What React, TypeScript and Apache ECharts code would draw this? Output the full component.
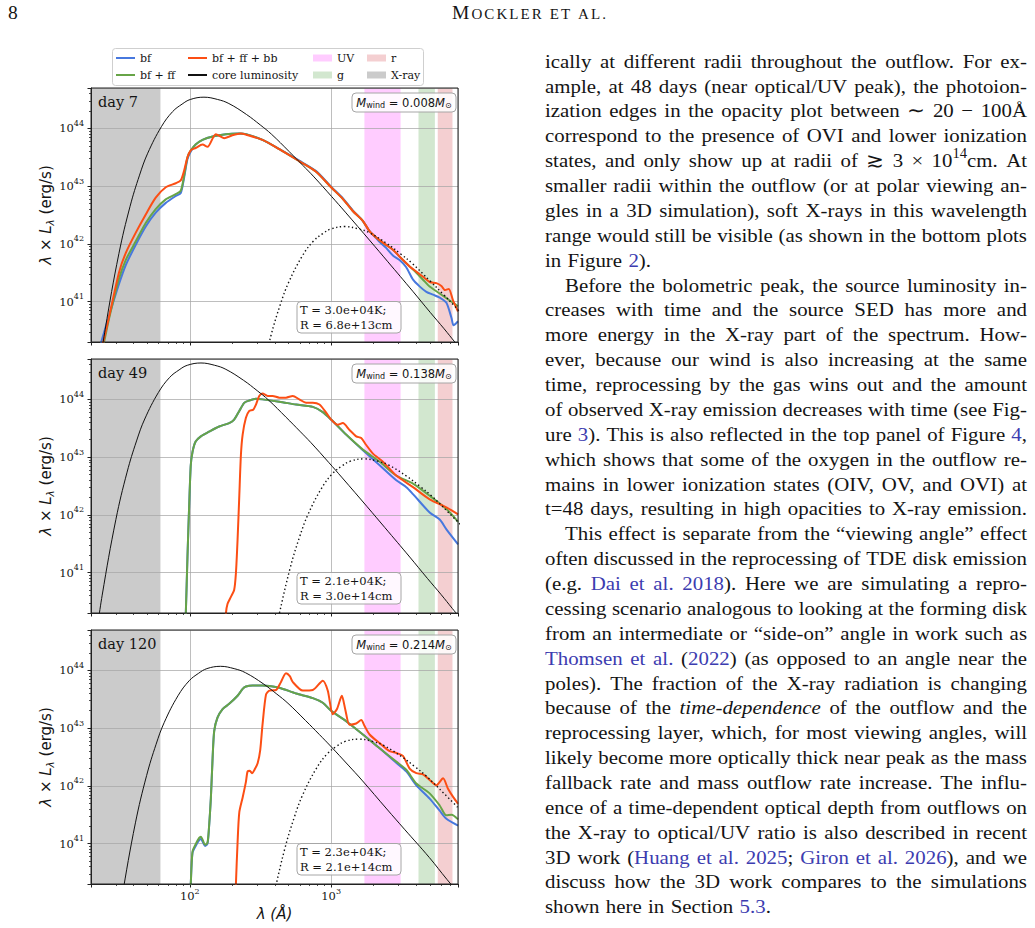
import React, { useEffect, useRef } from 'react';
import * as echarts from 'echarts';

type Pt = [number, number];

// ---------- axis ranges ----------
const WAVE_MIN = 20; // Å
const WAVE_MAX = 7900; // Å
const LUM_MIN = 2e40; // erg/s
const LUM_MAX = 5e44; // erg/s

// ---------- shaded wavelength bands, [from, to] in Å ----------
const bandNames = ['X-ray', 'UV', 'g', 'r'];
const bandRanges: Pt[] = [[20, 62], [1720, 3100], [4150, 5420], [5680, 7220]];

// ---------- per-epoch annotations ----------
const epochLabels = ['day 7', 'day 49', 'day 120'];
const windMasses = ['0.008', '0.138', '0.214'];
const photoTemps = ['3.0e+04', '2.1e+04', '2.3e+04'];
const photoRadii = ['6.8e+13', '3.0e+14', '2.1e+14'];

// ---------- spectra: [wavelength (Å), log10 of λL_λ (erg/s)] ----------
const day7Bf: Pt[] = [
  [21.5, 39.9], [23.4, 40.26], [26.8, 40.75], [31.6, 41.31], [35.2, 41.63], [41.4, 41.98], [48.8, 42.3],
  [57.4, 42.54], [67.6, 42.71], [79.6, 42.83], [86.3, 42.88], [91.2, 43.15], [96.3, 43.47], [101.6, 43.6],
  [110, 43.72], [123, 43.8], [145, 43.86], [180, 43.9], [224, 43.91], [250, 43.9], [327, 43.8], [430, 43.64],
  [596, 43.44], [783, 43.26], [1000, 42.99], [1209, 42.79], [1423, 42.58], [1675, 42.4], [1869, 42.22],
  [2085, 42.1], [2170, 42.05], [2450, 41.93], [2735, 41.8], [3050, 41.72], [3390, 41.6], [3800, 41.38],
  [4240, 41.26], [4720, 41.17], [5260, 41.12], [5863, 41.07], [6541, 40.98], [7100, 40.72], [7350, 40.59],
  [7900, 40.66],
];
const day7BfFf: Pt[] = [
  [22, 39.9], [24.2, 40.2], [26.8, 40.7], [31.6, 41.4], [35.2, 41.72], [41.4, 42.04], [48.8, 42.36],
  [57.4, 42.6], [67.6, 42.77], [79.6, 42.86], [86.3, 42.92], [91.2, 43.18], [96.3, 43.5], [101.6, 43.62],
  [110, 43.72], [123, 43.8], [145, 43.86], [180, 43.9], [224, 43.91], [250, 43.9], [327, 43.8], [430, 43.64],
  [596, 43.43], [783, 43.25], [1000, 42.98], [1209, 42.78], [1423, 42.57], [1675, 42.4], [1869, 42.22],
  [2085, 42.11], [2388, 42.0], [2735, 41.9], [3050, 41.78], [3590, 41.61], [4008, 41.5], [4467, 41.38],
  [4979, 41.26], [5554, 41.18], [6030, 41.12], [6541, 41.06], [7283, 40.98], [7900, 40.92],
];
const day7BfFfBb: Pt[] = [
  [21.5, 39.8], [24.2, 40.26], [26.8, 40.73], [31.6, 41.51], [35.2, 41.84], [41.4, 42.19], [48.8, 42.51],
  [57.4, 42.8], [67.6, 42.98], [79.6, 43.05], [86.3, 43.1], [91.2, 43.27], [96.3, 43.5], [101.6, 43.62],
  [110, 43.66], [123, 43.72], [133.5, 43.68], [152.8, 43.9], [175, 43.83], [200, 43.88], [230, 43.91],
  [250, 43.89], [327, 43.8], [430, 43.64], [596, 43.43], [783, 43.25], [1000, 42.98], [1209, 42.78],
  [1423, 42.57], [1675, 42.4], [1869, 42.22], [2085, 42.11], [2388, 42.0], [2735, 41.9], [3050, 41.78],
  [3590, 41.61], [4008, 41.52], [4467, 41.43], [4979, 41.34], [5554, 41.32], [6030, 41.27], [6400, 41.2],
  [6800, 41.22], [7283, 41.02], [7900, 40.83],
];
const day7Core: Pt[] = [
  [22.7, 39.75], [25.2, 40.52], [31.5, 41.83], [37.8, 42.65], [44.1, 43.19], [50.4, 43.57], [63, 44.03],
  [75.6, 44.29], [88.2, 44.42], [100.8, 44.5], [126, 44.54], [157.5, 44.5], [189, 44.43], [252, 44.24],
  [315, 44.06], [378, 43.9], [504, 43.6], [630, 43.36], [756, 43.16], [1008, 42.82], [1260, 42.55],
  [1890, 42.05], [2520, 41.69], [3780, 41.18], [5040, 40.81], [6300, 40.53], [7560, 40.29], [8000, 40.22],
];
const day7Photo: Pt[] = [
  [312, 39.59], [375, 40.41], [437, 40.95], [500, 41.33], [625, 41.79], [750, 42.05], [875, 42.18],
  [1000, 42.26], [1250, 42.3], [1562, 42.26], [1875, 42.19], [2500, 42.0], [3125, 41.82], [3750, 41.66],
  [5000, 41.36], [6250, 41.12], [7500, 40.92], [8000, 40.84],
];

const day49Bf: Pt[] = [
  [92, 39.9], [93.7, 40.29], [96.3, 41.28], [99, 42.16], [101.6, 42.86], [104.5, 43.09], [110, 43.27],
  [119.7, 43.36], [137, 43.44], [161.4, 43.53], [190, 43.59], [206, 43.65], [224, 43.8], [242.7, 43.94],
  [263.5, 43.98], [294, 44.01], [327, 44.0], [430, 43.96], [565, 43.91], [742, 43.87], [873, 43.78],
  [1000, 43.65], [1277, 43.39], [1678, 43.12], [2204, 42.86], [2890, 42.6], [3404, 42.48], [3795, 42.36],
  [4979, 42.04], [5863, 41.92], [6541, 41.75], [7910, 41.49],
];
const day49BfFf: Pt[] = [
  [92, 39.9], [93.7, 40.29], [96.3, 41.28], [99, 42.16], [101.6, 42.86], [104.5, 43.09], [110, 43.27],
  [119.7, 43.36], [137, 43.44], [161.4, 43.53], [190, 43.59], [206, 43.65], [224, 43.8], [242.7, 43.94],
  [263.5, 43.98], [294, 44.01], [327, 44.0], [430, 43.96], [565, 43.91], [742, 43.87], [873, 43.78],
  [1000, 43.65], [1277, 43.39], [1678, 43.13], [2204, 42.92], [2890, 42.68], [3795, 42.54], [4979, 42.33],
  [6541, 42.1], [7910, 41.88],
];
const day49BfFfBb: Pt[] = [
  [178, 39.9], [180, 40.29], [185, 40.46], [195.4, 40.58], [206, 40.7], [212, 40.99], [217.8, 41.57],
  [224, 42.33], [230, 43.04], [236.6, 43.39], [249.5, 43.68], [263.5, 43.8], [281, 43.82], [294, 43.91],
  [310, 44.06], [327, 44.1], [355.6, 44.06], [385.6, 44.06], [430, 44.03], [479.4, 44.03], [534.6, 44.06],
  [596, 44.0], [664.7, 43.94], [742, 43.94], [826.6, 43.91], [922, 43.77], [1000, 43.65], [1115, 43.56],
  [1210, 43.59], [1349, 43.47], [1504, 43.36], [1633, 43.33], [1771, 43.21], [1977, 43.06], [2325, 42.92],
  [2890, 42.68], [3795, 42.48], [4979, 42.27], [6541, 42.13], [7910, 42.01],
];
const day49Core: Pt[] = [
  [21.6, 39.84], [24, 40.61], [30, 41.92], [36, 42.74], [42, 43.28], [48, 43.66], [60, 44.12], [72, 44.38],
  [84, 44.51], [96, 44.59], [120, 44.63], [150, 44.59], [180, 44.52], [240, 44.33], [300, 44.15],
  [360, 43.99], [480, 43.69], [600, 43.45], [720, 43.25], [960, 42.91], [1200, 42.64], [1800, 42.14],
  [2400, 41.78], [3600, 41.27], [4800, 40.9], [6000, 40.62], [7200, 40.38], [8400, 40.18],
];
const day49Photo: Pt[] = [
  [393, 39.82], [427.5, 40.26], [513, 41.08], [598.5, 41.62], [684, 42.0], [855, 42.46], [1026, 42.72],
  [1197, 42.85], [1368, 42.93], [1710, 42.97], [2137, 42.93], [2565, 42.86], [3420, 42.67], [4275, 42.49],
  [5130, 42.33], [6840, 42.03], [8550, 41.79],
];

const day120Bf: Pt[] = [
  [100, 39.9], [101.6, 40.3], [104.5, 40.84], [110, 40.96], [116.5, 41.06], [119.7, 41.08], [126.4, 40.98],
  [128.5, 40.96], [133.5, 41.0], [137, 41.3], [140.9, 41.78], [145, 42.48], [148.8, 42.95], [157, 43.18],
  [170.6, 43.33], [190, 43.42], [217.8, 43.56], [236.6, 43.68], [249.5, 43.72], [278, 43.74], [327, 43.74],
  [365.5, 43.73], [430, 43.7], [565, 43.6], [742, 43.52], [873, 43.44], [1000, 43.3], [1277, 43.12],
  [1678, 42.89], [2204, 42.65], [2890, 42.4], [3400, 42.25], [4008, 42.01], [4979, 41.78], [5863, 41.57],
  [6541, 41.43], [7910, 41.31],
];
const day120BfFf: Pt[] = [
  [100, 39.9], [101.6, 40.3], [104.5, 40.86], [110, 40.99], [116.5, 41.1], [119.7, 41.12], [126.4, 41.0],
  [128.5, 40.98], [133.5, 41.02], [137, 41.31], [140.9, 41.78], [145, 42.48], [148.8, 42.95], [157, 43.18],
  [170.6, 43.33], [190, 43.42], [217.8, 43.56], [236.6, 43.68], [249.5, 43.72], [278, 43.74], [327, 43.74],
  [365.5, 43.73], [430, 43.7], [565, 43.6], [742, 43.52], [873, 43.44], [1000, 43.3], [1277, 43.12],
  [1678, 42.89], [2204, 42.65], [2890, 42.42], [3400, 42.28], [4008, 42.04], [4979, 41.87], [5863, 41.66],
  [6541, 41.49], [7103, 41.5], [7910, 41.42],
];
const day120BfFfBb: Pt[] = [
  [210, 39.9], [212, 40.3], [217.8, 41.02], [224, 41.54], [236.6, 41.8], [249.5, 42.07], [256.5, 42.25],
  [266, 42.26], [275.4, 42.22], [290, 42.3], [302, 42.39], [315, 42.62], [327, 43.06], [346, 43.58],
  [365.5, 43.65], [407.6, 43.66], [441.8, 43.8], [479.4, 43.95], [510, 43.9], [534.6, 43.8], [630, 43.65],
  [742, 43.66], [873, 43.82], [946, 43.65], [1028, 43.24], [1100, 43.33], [1191, 43.56], [1260, 43.32],
  [1349, 43.06], [1504, 43.08], [1633, 43.14], [1722, 43.04], [1871, 42.89], [2204, 42.74], [2595, 42.6],
  [2890, 42.57], [3221, 42.52], [3593, 42.3], [4008, 42.22], [4470, 42.2], [4979, 42.1], [5555, 42.01],
  [6194, 42.13], [6712, 41.95], [7290, 41.81], [7910, 41.69],
];
const day120Core: Pt[] = [
  [31, 39.6], [33, 40.05], [41.25, 41.36], [49.5, 42.18], [57.75, 42.72], [66, 43.1], [82.5, 43.56],
  [99, 43.82], [115.5, 43.95], [132, 44.03], [165, 44.07], [206, 44.03], [247.5, 43.96], [330, 43.77],
  [412.5, 43.59], [495, 43.43], [660, 43.13], [825, 42.89], [990, 42.69], [1320, 42.36], [1650, 42.1],
  [2475, 41.6], [3300, 41.25], [4950, 40.76], [6600, 40.38], [8250, 40.1],
];
const day120Photo: Pt[] = [
  [361, 39.66], [392.5, 40.1], [471, 40.92], [549.5, 41.46], [628, 41.84], [785, 42.3], [942, 42.56],
  [1099, 42.69], [1256, 42.77], [1570, 42.81], [1962, 42.77], [2355, 42.7], [3140, 42.51], [3925, 42.33],
  [4710, 42.17], [6280, 41.87], [7850, 41.63],
];

const epochSpectra = [
  { bf: day7Bf, bfFf: day7BfFf, bfFfBb: day7BfFfBb, core: day7Core, photo: day7Photo },
  { bf: day49Bf, bfFf: day49BfFf, bfFfBb: day49BfFfBb, core: day49Core, photo: day49Photo },
  { bf: day120Bf, bfFf: day120BfFf, bfFfBb: day120BfFfBb, core: day120Core, photo: day120Photo },
];

// ---------- page text ----------
const runningPage = '8';
const runningHead = 'Mockler et al.';

// {b:...} citation link, {i:...} italic, {s:...} superscript
const bodyLines: string[] = [
  'ically at different radii throughout the outflow. For ex-',
  'ample, at 48 days (near optical/UV peak), the photoion-',
  'ization edges in the opacity plot between ∼ 20 − 100Å',
  'correspond to the presence of OVI and lower ionization',
  'states, and only show up at radii of ≳ 3 × 10{s:14}cm. At',
  'smaller radii within the outflow (or at polar viewing an-',
  'gles in a 3D simulation), soft X-rays in this wavelength',
  'range would still be visible (as shown in the bottom plots',
  'in Figure {b:2}).',
  'Before the bolometric peak, the source luminosity in-',
  'creases with time and the source SED has more and',
  'more energy in the X-ray part of the spectrum. How-',
  'ever, because our wind is also increasing at the same',
  'time, reprocessing by the gas wins out and the amount',
  'of observed X-ray emission decreases with time (see Fig-',
  'ure {b:3}). This is also reflected in the top panel of Figure {b:4},',
  'which shows that some of the oxygen in the outflow re-',
  'mains in lower ionization states (OIV, OV, and OVI) at',
  't=48 days, resulting in high opacities to X-ray emission.',
  'This effect is separate from the “viewing angle” effect',
  'often discussed in the reprocessing of TDE disk emission',
  '(e.g. {b:Dai et al. 2018}). Here we are simulating a repro-',
  'cessing scenario analogous to looking at the forming disk',
  'from an intermediate or “side-on” angle in work such as',
  '{b:Thomsen et al.} ({b:2022}) (as opposed to an angle near the',
  'poles). The fraction of the X-ray radiation is changing',
  'because of the {i:time-dependence} of the outflow and the',
  'reprocessing layer, which, for most viewing angles, will',
  'likely become more optically thick near peak as the mass',
  'fallback rate and mass outflow rate increase. The influ-',
  'ence of a time-dependent optical depth from outflows on',
  'the X-ray to optical/UV ratio is also described in recent',
  '3D work ({b:Huang et al. 2025}; {b:Giron et al. 2026}), and we',
  'discuss how the 3D work compares to the simulations',
  'shown here in Section {b:5.3}.',
];
const indentedLines = [9, 19];
const raggedLines = [8, 34];

// ---------- styling ----------
const INK = '#141414';
const LINK = '#3c3cb0';
const SERIF = '"Liberation Serif", "Times New Roman", serif';
const PLOT_SERIF = '"DejaVu Serif", serif';
const PLOT_SANS = '"DejaVu Sans", sans-serif';
const BAND_COLORS: Record<string, string> = { 'X-ray': '#cbcbcb', UV: '#ffccff', g: '#d2e7cf', r: '#f4cfd1' };
const LINE_COLORS = { bf: '#4778de', bfFf: '#67a447', bfFfBb: '#fc4e14', core: '#111111' };

const GRID_LEFT = 91;
const GRID_W = 367;
const GRID_H = 254;
const GRID_TOPS = [88, 359, 630];

const BODY_LEFT = 545;
const BODY_RIGHT = 1027;
const BODY_TOP = 61;
const BODY_STEP = 24.87;
const BODY_SIZE = 19.5;
const BODY_STRETCH = 1.07; // horizontal widening of the body glyphs

type Run = { text: string; st: string };

function parseLine(src: string): Run[][] {
  const chars: { c: string; st: string }[] = [];
  let i = 0;
  while (i < src.length) {
    if (src[i] === '{' && src[i + 2] === ':') {
      const st = src[i + 1];
      const end = src.indexOf('}', i);
      for (const c of src.slice(i + 3, end)) chars.push({ c, st });
      i = end + 1;
    } else {
      chars.push({ c: src[i], st: 'n' });
      i += 1;
    }
  }
  const words: Run[][] = [];
  let cur: Run[] = [];
  for (const { c, st } of chars) {
    if (c === ' ') {
      if (cur.length) words.push(cur);
      cur = [];
      continue;
    }
    const last = cur[cur.length - 1];
    if (last && last.st === st) last.text += c;
    else cur.push({ text: c, st });
  }
  if (cur.length) words.push(cur);
  return words;
}

function bodyFont(st: string) {
  const size = st === 's' ? BODY_SIZE * 0.7 : BODY_SIZE;
  return `${st === 'i' ? 'italic ' : ''}${size}px ${SERIF}`;
}

function buildPageText(): any[] {
  const ctx = document.createElement('canvas').getContext('2d') as CanvasRenderingContext2D;
  const measure = (text: string, font: string) => {
    ctx.font = font;
    return ctx.measureText(text).width;
  };
  const els: any[] = [];

  // justified body column
  bodyLines.forEach((src, li) => {
    const words = parseLine(src);
    const widths = words.map((w) => w.reduce((s, r) => s + measure(r.text, bodyFont(r.st)) * BODY_STRETCH, 0));
    const x0 = BODY_LEFT + (indentedLines.includes(li) ? 20 : 0);
    const total = widths.reduce((a, b) => a + b, 0);
    const space = measure(' ', bodyFont('n')) * 1.3;
    const gap = raggedLines.includes(li) || words.length < 2 ? space : (BODY_RIGHT - x0 - total) / (words.length - 1);
    const y = BODY_TOP + li * BODY_STEP;
    let x = x0;
    words.forEach((w) => {
      w.forEach((r) => {
        els.push({
          type: 'text', x, y: r.st === 's' ? y - 7 : y, scaleX: BODY_STRETCH, silent: true,
          style: { text: r.text, font: bodyFont(r.st), fill: r.st === 'b' ? LINK : INK, textVerticalAlign: 'middle' },
        });
        x += measure(r.text, bodyFont(r.st)) * BODY_STRETCH;
      });
      x += gap;
    });
  });

  // running head: page number and small-caps author line
  els.push({
    type: 'text', x: 8, y: 12.5, silent: true,
    style: { text: runningPage, font: `19.5px ${SERIF}`, fill: INK, textVerticalAlign: 'middle' },
  });
  const isCap = (c: string) => c === c.toUpperCase() && c !== c.toLowerCase();
  const glyphs = runningHead.split('').map((c) => ({
    t: c.toUpperCase(),
    size: isCap(c) ? 19.5 : 15,
  }));
  const natural = glyphs.reduce((s, g) => s + measure(g.t, `${g.size}px ${SERIF}`), 0);
  const track = (154 - natural) / (glyphs.length - 1);
  let hx = 452;
  const baseline = 19;
  glyphs.forEach((g) => {
    els.push({
      type: 'text', x: hx, y: baseline - 0.33 * g.size, silent: true,
      style: { text: g.t, font: `${g.size}px ${SERIF}`, fill: INK, textVerticalAlign: 'middle' },
    });
    hx += measure(g.t, `${g.size}px ${SERIF}`) + track;
  });
  return els;
}

function panelAnnotations(): any[] {
  const els: any[] = [];
  GRID_TOPS.forEach((t, i) => {
    els.push({
      type: 'text', x: 98, y: t + 14, z: 10, silent: true,
      style: { text: epochLabels[i], font: `14.5px ${PLOT_SERIF}`, fill: INK, textVerticalAlign: 'middle' },
    });
    els.push({
      type: 'rect', z: 10, silent: true,
      shape: { x: 352, y: t + 5, width: 104, height: 19, r: 4 },
      style: { fill: 'rgba(255,255,255,0.85)', stroke: '#a6a6a6', lineWidth: 1 },
    });
    els.push({
      type: 'text', x: 404, y: t + 14.5, z: 11, silent: true,
      style: {
        text: `{it|M}{sub|wind} = ${windMasses[i]}{it|M}{sub|⊙}`,
        fontSize: 11.5, fontFamily: PLOT_SANS, fill: INK, lineHeight: 14,
        textAlign: 'center', textVerticalAlign: 'middle',
        rich: {
          it: { fontStyle: 'italic', fontSize: 11.5, fontFamily: PLOT_SANS, lineHeight: 14 },
          sub: { fontSize: 8, fontFamily: PLOT_SANS, lineHeight: 8, verticalAlign: 'bottom' },
        },
      },
    });
    els.push({
      type: 'rect', z: 10, silent: true,
      shape: { x: 297, y: t + 213.5, width: 104, height: 31.5, r: 4 },
      style: { fill: 'rgba(255,255,255,0.85)', stroke: '#a6a6a6', lineWidth: 1 },
    });
    els.push({
      type: 'text', x: 300, y: t + 221.5, z: 11, silent: true,
      style: { text: `T = ${photoTemps[i]}K;`, font: `11.5px ${PLOT_SERIF}`, fill: INK, textVerticalAlign: 'middle' },
    });
    els.push({
      type: 'text', x: 300, y: t + 236.5, z: 11, silent: true,
      style: { text: `R = ${photoRadii[i]}cm`, font: `11.5px ${PLOT_SERIF}`, fill: INK, textVerticalAlign: 'middle' },
    });
  });
  // legend frame
  els.push({
    type: 'rect', z: 3, silent: true,
    shape: { x: 112.5, y: 48.5, width: 311, height: 37, r: 3 },
    style: { fill: '#ffffff', stroke: '#cfcfcf', lineWidth: 1 },
  });
  return els;
}

const powerLabel = (v: number) => {
  const e = Math.log10(v);
  const r = Math.round(e);
  return Math.abs(e - r) < 1e-6 ? `10{sup|${r}}` : '';
};

const tickLabelStyle = {
  fontFamily: PLOT_SERIF, fontSize: 11.5, color: INK, lineHeight: 18,
  rich: { sup: { fontFamily: PLOT_SERIF, fontSize: 8, lineHeight: 9, verticalAlign: 'top', color: INK } },
};

function buildOption() {
  const grids = GRID_TOPS.map((t) => ({
    left: GRID_LEFT, top: t, width: GRID_W, height: GRID_H, show: true,
    borderColor: '#222', borderWidth: 1, backgroundColor: 'transparent', z: 5,
    containLabel: false, outerBoundsMode: 'none',
  }));

  const axisCommon = {
    logBase: 10, z: 2,
    axisLine: { show: true, lineStyle: { color: '#222', width: 1 } },
    axisTick: { show: true, inside: false, length: 3.5, lineStyle: { color: '#222', width: 1 } },
    minorTick: { show: true, splitNumber: 9, length: 2, lineStyle: { color: '#222', width: 0.8 } },
    splitLine: { show: true, lineStyle: { color: 'rgba(165,165,165,0.72)', width: 1 } },
    minorSplitLine: { show: false },
  };

  const xAxes = GRID_TOPS.map((_, i) => ({
    ...axisCommon, type: 'log', gridIndex: i, min: WAVE_MIN, max: WAVE_MAX,
    axisLabel: { show: i === 2, formatter: powerLabel, margin: 3, showMinLabel: false, showMaxLabel: false, ...tickLabelStyle },
    ...(i === 2
      ? {
          name: 'λ (Å)', nameLocation: 'middle', nameGap: 22,
          nameTextStyle: { fontFamily: PLOT_SANS, fontStyle: 'italic', fontSize: 15, color: INK },
        }
      : {}),
  }));

  const yAxes = GRID_TOPS.map((_, i) => ({
    ...axisCommon, type: 'log', gridIndex: i, min: LUM_MIN, max: LUM_MAX,
    axisLabel: { show: true, formatter: powerLabel, margin: 7, showMinLabel: false, showMaxLabel: false, ...tickLabelStyle },
    name: '{it|λ} × {it|L}{sub|λ} (erg/s)', nameLocation: 'middle', nameGap: 30, nameRotate: 90,
    nameTextStyle: {
      fontFamily: PLOT_SANS, fontSize: 15, color: INK, lineHeight: 18,
      rich: {
        it: { fontFamily: PLOT_SANS, fontStyle: 'italic', fontSize: 15, lineHeight: 18 },
        sub: { fontFamily: PLOT_SANS, fontStyle: 'italic', fontSize: 10.5, lineHeight: 10, verticalAlign: 'bottom' },
      },
    },
  }));

  const toLum = (rows: Pt[]) => rows.map(([w, lg]) => [w, Math.pow(10, lg)]);

  const series: any[] = [];
  epochSpectra.forEach((sp, i) => {
    bandNames.forEach((name, b) => {
      series.push({
        type: 'custom', name, xAxisIndex: i, yAxisIndex: i, z: 1, silent: true,
        itemStyle: { color: BAND_COLORS[name] },
        encode: { x: [0, 1] },
        data: [bandRanges[b]],
        renderItem: (_p: any, api: any) => {
          const a = api.coord([api.value(0), LUM_MAX]);
          const c = api.coord([api.value(1), LUM_MIN]);
          return {
            type: 'rect',
            shape: { x: a[0], y: a[1], width: c[0] - a[0], height: c[1] - a[1] },
            style: { fill: BAND_COLORS[name] },
          };
        },
      });
    });
    const line = (name: string, rows: Pt[], color: string, width: number, smooth: number, dash?: number[]) => ({
      type: 'line', name, xAxisIndex: i, yAxisIndex: i, data: toLum(rows), z: 3, silent: true,
      symbol: 'none', showSymbol: false, smooth, clip: true,
      color, itemStyle: { color },
      lineStyle: { color, width, type: dash ?? 'solid' },
    });
    series.push(line('bf', sp.bf, LINE_COLORS.bf, 2, 0.25));
    series.push(line('bf + ff', sp.bfFf, LINE_COLORS.bfFf, 2, 0.25));
    series.push(line('bf + ff + bb', sp.bfFfBb, LINE_COLORS.bfFfBb, 2, 0.25));
    series.push(line('core luminosity', sp.core, LINE_COLORS.core, 1, 0.4));
    series.push(line('photosphere', sp.photo, LINE_COLORS.core, 1.4, 0.4, [1.4, 2.6]));
  });

  const legendCommon = {
    orient: 'vertical', selectedMode: false, itemGap: 3, padding: 0, top: 51, z: 4,
    itemWidth: 19, icon: 'rect',
    textStyle: { fontFamily: PLOT_SERIF, fontSize: 11, color: INK, lineHeight: 14 },
    itemStyle: { borderWidth: 0 },
  };

  return {
    animation: false,
    backgroundColor: '#ffffff',
    textStyle: { fontFamily: PLOT_SERIF },
    grid: grids,
    xAxis: xAxes,
    yAxis: yAxes,
    legend: [
      { ...legendCommon, left: 116, itemHeight: 2, data: ['bf', 'bf + ff'] },
      { ...legendCommon, left: 188, itemHeight: 2, data: ['bf + ff + bb', 'core luminosity'] },
      { ...legendCommon, left: 313, itemHeight: 7, data: ['UV', 'g'] },
      { ...legendCommon, left: 367, itemHeight: 7, data: ['r', 'X-ray'] },
    ],
    series,
    graphic: { elements: [...panelAnnotations(), ...buildPageText()] },
  };
}

export default function App() {
  const ref = useRef<HTMLDivElement>(null);
  useEffect(() => {
    const chart = echarts.init(ref.current as HTMLDivElement, null, { renderer: 'svg' });
    chart.setOption(buildOption() as any);
    return () => chart.dispose();
  }, []);
  return (
    <div
      ref={ref}
      style={{ position: 'absolute', left: 0, top: 0, width: 1035, height: 928, background: '#ffffff' }}
    />
  );
}
